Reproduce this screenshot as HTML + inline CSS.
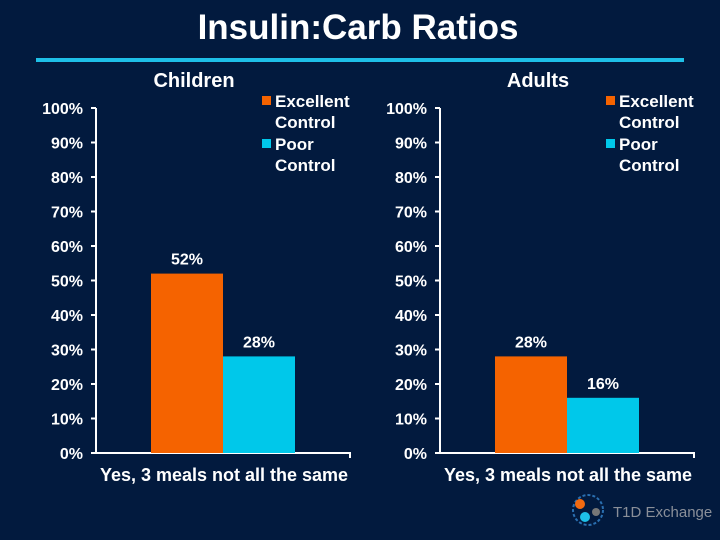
<!DOCTYPE html>
<html><head><meta charset="utf-8"><style>
body{margin:0;background:#021a3e;}
svg{display:block;font-family:"Liberation Sans",Arial,sans-serif;font-weight:bold;}
</style></head><body>
<svg id="c" width="720" height="540">
<rect width="720" height="540" fill="#021a3e"/>
<text x="358" y="39" text-anchor="middle" fill="#fff" font-size="35">Insulin:Carb Ratios</text>
<rect x="36" y="58" width="648" height="4" fill="#1ec0e8"/>
<g>
<circle cx="588" cy="510" r="15" fill="none" stroke="#2a6fb0" stroke-width="2" stroke-dasharray="3 2"/>
<circle cx="580" cy="504" r="5" fill="#f26a10"/>
<circle cx="585" cy="517" r="5" fill="#1ec0e8"/>
<circle cx="596" cy="512" r="4" fill="#777"/>
<text x="613" y="517" fill="#8a8f99" font-size="15" font-weight="normal">T1D Exchange</text>
</g>
<g id="plots"></g>
</svg>
<script>
const ticks=[0,10,20,30,40,50,60,70,80,90,100];
const groups=["Children","Adults"];
const category="Yes, 3 meals not all the same";
const excellent=[52,28];
const poor=[28,16];
const seriesNames=["Excellent Control","Poor Control"];
const colors=["#f56300","#00c8ea"];
const NS="http://www.w3.org/2000/svg";
const root=document.getElementById('plots');
function mk(t,a,p){const e=document.createElementNS(NS,t);for(const k in a)e.setAttribute(k,a[k]);(p||root).appendChild(e);return e;}
const y0=453,y100=108;
function y(v){return y0-(y0-y100)*v/100;}
groups.forEach((g,i)=>{
  const ox=96+i*344;
  const G=mk('g',{});
  
  
  const t=mk('text',{x:ox+98,y:87,'text-anchor':'middle',fill:'#fff','font-size':20},G);t.textContent=g;
  
  
  const ax=mk('line',{x1:ox,y1:y(100),x2:ox,y2:y0,stroke:'#fff','stroke-width':2},G);
  
  
  const xa=mk('path',{d:`M${ox} ${y0}H${ox+254}V${y0+5}`,stroke:'#fff','stroke-width':2,fill:'none'},G);
  
  
  ticks.forEach(v=>{
    const l=mk('line',{x1:ox-5,x2:ox,y1:y(v),y2:y(v),stroke:'#fff','stroke-width':2},G);
    
    
    const tx=mk('text',{x:ox-13,y:y(v)+6,'text-anchor':'end',fill:'#fff','font-size':16},G);tx.textContent=v+'%';
    
    
  });
  [excellent[i],poor[i]].forEach((v,s)=>{
    const bx=ox+55+s*72;
    const r=mk('rect',{x:bx,y:y(v),width:72,height:y0-y(v),fill:colors[s]},G);
    
    
    const lb=mk('text',{x:bx+36,y:y(v)-9,'text-anchor':'middle',fill:'#fff','font-size':16},G);lb.textContent=v+'%';
    
    
  });
  const cl=mk('text',{x:ox+128,y:481,'text-anchor':'middle',fill:'#fff','font-size':18},G);cl.textContent=category;
  
  
  seriesNames.forEach((n,s)=>{
    const ly=94+s*43;
    const sw=mk('rect',{x:ox+166,y:ly+2,width:9,height:9,fill:colors[s]},G);
    
    
    const words=n.split(' ');
    const t1=mk('text',{x:ox+179,y:ly+13,fill:'#fff','font-size':17},G);t1.textContent=words[0];
    
    
    const t2=mk('text',{x:ox+179,y:ly+34,fill:'#fff','font-size':17},G);t2.textContent=words[1];
    
    
  });
});
</script>
</body></html>
